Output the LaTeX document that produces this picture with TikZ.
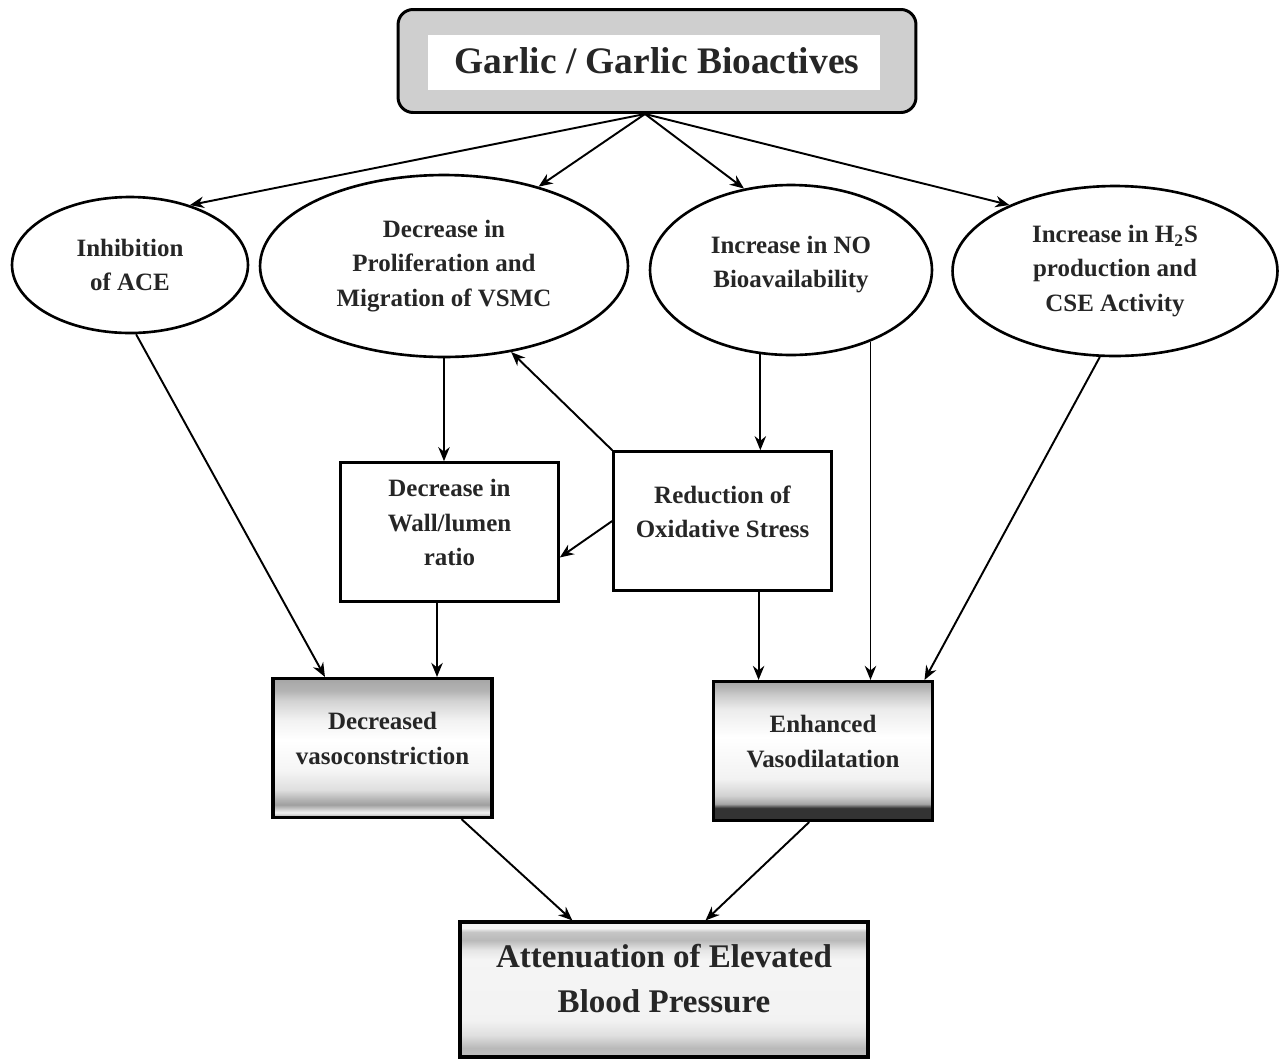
\documentclass[tikz,border=0pt]{standalone}
\usepackage{fontspec}
\setmainfont{Liberation Serif}
\usepackage{tikz}
\usetikzlibrary{shapes, arrows.meta}

% shadings of the lower boxes (0bp = bottom, 25bp..75bp = box)
\pgfdeclareverticalshading{decrshade}{100bp}{color(0bp)=(gray!70); color(25bp)=(gray!70);
  color(26.8bp)=(gray!12); color(29.6bp)=(gray!75); color(31.4bp)=(gray!60); color(35bp)=(gray!25);
  color(42bp)=(gray!8); color(53bp)=(white); color(60bp)=(gray!10); color(67bp)=(gray!35);
  color(70.7bp)=(gray!60); color(75bp)=(gray!70); color(100bp)=(gray!70)}
\pgfdeclareverticalshading{enhshade}{100bp}{color(0bp)=(black!80); color(29.5bp)=(black!80);
  color(31bp)=(gray!70); color(34bp)=(gray!35); color(40bp)=(gray!10); color(55bp)=(white);
  color(65bp)=(gray!15); color(70bp)=(gray!40); color(73bp)=(gray!60); color(75bp)=(gray!70);
  color(100bp)=(gray!70)}
\pgfdeclareverticalshading{attshade}{100bp}{color(0bp)=(gray!50); color(25bp)=(gray!50);
  color(28.3bp)=(gray!55); color(33bp)=(gray!25); color(38.7bp)=(gray!10); color(61bp)=(gray!8);
  color(64.6bp)=(gray!20); color(68.3bp)=(gray!55); color(71.3bp)=(gray!45); color(72.8bp)=(gray!10);
  color(75bp)=(gray!10); color(100bp)=(gray!10)}

\begin{document}
\begin{tikzpicture}
    [x=0.02cm, y=-0.02cm,
    txt/.style={font=\fontsize{14.2}{19.5}\selectfont\bfseries, text=black!85, align=center},
    source/.style={rectangle, draw, line width=1.7pt, rounded corners=0.3cm, fill=gray!38,
    minimum width=10.36cm, minimum height=2.06cm, text=black!85,
    font=\fontsize{21.3}{26}\selectfont\bfseries,
    path picture={\fill [white, sharp corners]
    ([shift={(0.6cm,-0.5cm)}]path picture bounding box.north west)
    rectangle ([shift={(-0.72cm,0.46cm)}]path picture bounding box.south east);}},
    effect/.style={ellipse, draw, line width=1.5pt, txt, inner sep=0pt},
    process/.style={rectangle, draw, line width=1.5pt, txt, text depth=11pt,
    minimum width=4.36cm, minimum height=2.78cm},
    outcome/.style={rectangle, draw, line width=1.8pt, txt, text depth=11pt,
    minimum width=4.38cm, minimum height=2.78cm},
    final/.style={rectangle, draw, line width=1.8pt, shading=attshade, text=black!85,
    font=\fontsize{18.8}{25.5}\selectfont\bfseries, align=center, text depth=13pt,
    minimum width=8.16cm, minimum height=2.7cm},
    arrow/.style={line width=1.1pt, ->, >={Stealth[length=8pt, width=6.5pt]}}]
    \useasboundingbox (0,0) rectangle (1284,1059);

    \node [source] (garlic) at (657,61) {Garlic / Garlic Bioactives};
    \node [effect, minimum width=4.72cm, minimum height=2.72cm] (ace) at (130,265)
    {Inhibition\\of ACE};
    \node [effect, minimum width=7.36cm, minimum height=3.64cm] (vsmc) at (444,266)
    {Decrease in\\Proliferation and\\Migration of VSMC};
    \node [effect, minimum width=5.64cm, minimum height=3.4cm, text depth=9pt] (no)
    at (791,270) {Increase in NO\\Bioavailability};
    \node [effect, minimum width=6.5cm, minimum height=3.4cm] (hs) at (1115,271)
    {Increase in H\textsubscript{2}S\\production and\\CSE Activity};
    \node [process] (wall) at (449.5,532) {Decrease in\\Wall/lumen\\ratio};
    \node [process] (oxid) at (722.5,521) {Reduction of\\Oxidative Stress};
    \node [outcome, shading=decrshade] (decr) at (382.5,748) {Decreased\\vasoconstriction};
    \node [outcome, shading=enhshade] (enh) at (823,751) {Enhanced\\Vasodilatation};
    \node [final] (att) at (664,989.5) {Attenuation of Elevated\\Blood Pressure};

    \draw [arrow] ([xshift=-0.24cm]garlic.south) -- (ace.45);
    \draw [arrow] ([xshift=-0.24cm]garlic.south) -- (vsmc.40);
    \draw [arrow] ([xshift=-0.24cm]garlic.south) -- (no.120);
    \draw [arrow] ([xshift=-0.24cm]garlic.south) -- (hs.148);
    \draw [arrow] (ace.-85) -- (decr.129);
    \draw [arrow] (vsmc.south) -- (vsmc.south |- wall.north);
    \draw [arrow] (oxid.north west) -- (vsmc.-52);
    \draw [arrow] (oxid.west) -- (wall.-13);
    \draw [arrow] (no.250) -- (no.250 |- oxid.north);
    \draw [arrow] (no.-42) -- (no.-42 |- enh.north);
    \draw [arrow] (hs.-100) -- (enh.35);
    \draw [arrow] (wall.260) -- (wall.260 |- decr.north);
    \draw [arrow] (oxid.-63) -- (oxid.-63 |- enh.north);
    \draw [arrow] (decr.-42) -- (att.143);
    \draw [arrow] (enh.259) -- (att.59);
  \end{tikzpicture}
\end{document}
